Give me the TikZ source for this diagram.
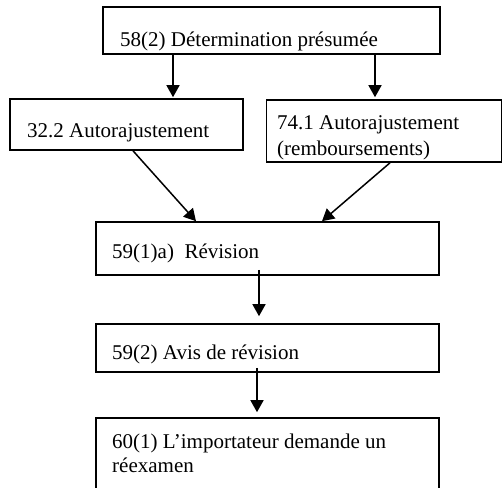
\documentclass[tikz,border=0pt]{standalone}
\usepackage{fontspec}
\setmainfont{Liberation Serif}
\usetikzlibrary{arrows.meta}
\begin{document}
\begin{tikzpicture}[x=1pt,y=-1pt,
  box/.style={draw=black,line width=1.6pt,rectangle,inner sep=0pt},
  lbl/.style={anchor=base west,inner sep=0pt,font=\fontsize{21}{26}\selectfont},
  arr/.style={draw=black,line width=1.5pt,-{Triangle[length=12pt,width=13pt]}}]
\useasboundingbox (0,0) rectangle (503,487);
% boxes
\node[box,minimum width=337pt,minimum height=47pt] (b1) at (271.5,30.5) {};
\node[box,minimum width=233pt,minimum height=51pt] (b2) at (126.5,124.5) {};
\node[box,minimum width=235pt,minimum height=62pt] (b3) at (384,131) {};
\node[box,minimum width=343pt,minimum height=53pt] (b4) at (267.5,248.5) {};
\node[box,minimum width=343pt,minimum height=48pt] (b5) at (267.5,348) {};
\node[box,minimum width=343pt,minimum height=74pt] (b6) at (267.5,455) {};
% texts
\node[lbl] (t1) at (120,47) {58(2) Détermination présumée};
\node[lbl] (t2) at (27,137) {32.2 Autorajustement};
\node[lbl] (t3a) at (277,129) {74.1 Autorajustement};
\node[lbl] (t3b) at (277,155) {(remboursements)};
\node[lbl] (t4) at (112,258) {59(1)a)\ \ Révision};
\node[lbl] (t5) at (112,359) {59(2) Avis de révision};
\node[lbl] (t6a) at (112,448) {60(1) L’importateur demande un};
\node[lbl] (t6b) at (112,472) {réexamen};
% connectors
\draw[arr,shorten >=1pt] ([xshift=-98.5pt]b1.south) -- ([xshift=46.5pt]b2.north);
\draw[arr,shorten >=2pt] ([xshift=103.5pt]b1.south) -- ([xshift=-9pt]b3.north);
\draw[arr] ([xshift=6.5pt]b2.south) -- ([xshift=-71.5pt]b4.north);
\draw[arr] ([xshift=6pt]b3.south) -- ([xshift=54.5pt]b4.north);
\draw[arr,shorten >=7pt] ([xshift=-8.5pt,yshift=6pt]b4.south) -- ([xshift=-8.5pt]b5.north);
\draw[arr,shorten >=5pt] ([xshift=-10.5pt,yshift=5pt]b5.south) -- ([xshift=-10.5pt]b6.north);
\end{tikzpicture}
\end{document}
